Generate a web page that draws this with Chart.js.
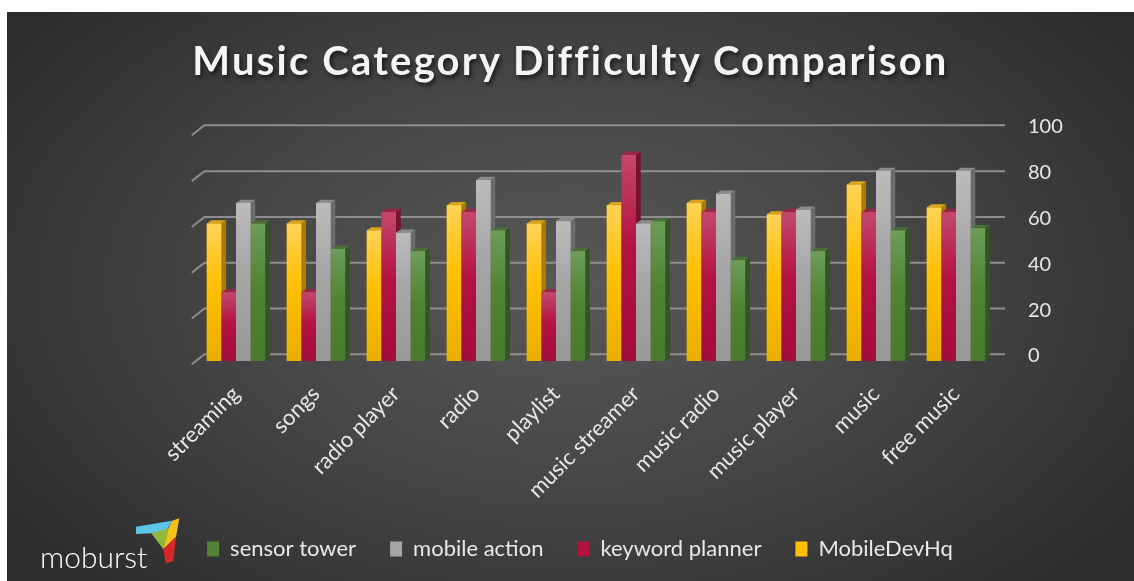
<!DOCTYPE html>
<html>
<head>
<meta charset="utf-8">
<script src="https://cdn.jsdelivr.net/npm/chart.js@4.4.1/dist/chart.umd.min.js"></script>
<style>
  html, body { margin: 0; padding: 0; background: #fff; }
  #wrap {
    position: absolute; left: 7px; top: 12px; width: 1127px; height: 569px;
    background: radial-gradient(ellipse 62% 75% at 50% 48%, #585858 0%, #474747 45%, #2c2c2c 100%);
  }
  #title {
    position: absolute; left: 0; top: 24px; width: 100%; text-align: center;
    font: bold 40px Lato, sans-serif; line-height: 48px; letter-spacing: 2.2px;
    color: #f4f4f4; text-shadow: 2px 3px 4px rgba(0, 0, 0, 0.6);
  }
  canvas { position: absolute; left: 0; top: 0; }
</style>
</head>
<body>
<div id="wrap">
  <canvas id="chart"></canvas>
  <div id="title">Music Category Difficulty Comparison</div>
</div>
<script>
const categories = ['streaming', 'songs', 'radio player', 'radio', 'playlist', 'music streamer', 'music radio', 'music player', 'music', 'free music'];
const mobileDevHq = [60, 60, 57, 68, 60, 68, 69, 64, 77, 67];
const keywordPlanner = [30, 30, 65, 65, 30, 90, 65, 65, 65, 65];
const mobileAction = [69, 69, 56, 79, 61, 60, 73, 66, 83, 83];
const sensorTower = [60, 49, 48, 57, 48, 61, 44, 48, 57, 58];
const yTicks = [0, 20, 40, 60, 80, 100];

// face colours: [light, base, dark, side, top]
const shades = [
  ['#ffd257', '#ffc000', '#e9ae00', '#a97d00', '#d9a31c'],
  ['#c4486a', '#b3123f', '#a10d38', '#761430', '#98274a'],
  ['#bcbcbc', '#a6a6a6', '#999999', '#6c6c6c', '#8c8c8c'],
  ['#6e9c5a', '#548235', '#4a782c', '#335620', '#4b6e38']
];
const DX = 4.7, DY = 3.3;   // bar depth
const FX = 12.6, FY = 10;   // floor depth

const bars3d = {
  id: 'bars3d',
  beforeDatasetsDraw(chart) {
    const ctx = chart.ctx, area = chart.chartArea, y = chart.scales.y;
    ctx.save();
    ctx.strokeStyle = '#8e8e8e';
    ctx.lineWidth = 2;
    yTicks.forEach(v => {
      const py = y.getPixelForValue(v);
      const fx = area.left - FX / 3, fy = py + FY / 3;
      ctx.beginPath();
      ctx.moveTo(fx, fy);
      ctx.lineTo(fx + FX, fy - FY);
      ctx.lineTo(area.right + 9, fy - FY);
      ctx.stroke();
    });
    ctx.restore();
  },
  afterDatasetsDraw(chart) {
    const ctx = chart.ctx;
    ctx.save();
    categories.forEach((c, i) => {
      chart.data.datasets.forEach((ds, d) => {
        const el = chart.getDatasetMeta(d).data[i];
        const s = shades[d];
        const l = el.x - el.width / 2, r = el.x + el.width / 2, t = el.y, b = el.base;
        ctx.fillStyle = s[3];
        ctx.beginPath();
        ctx.moveTo(r, t); ctx.lineTo(r + DX, t - DY); ctx.lineTo(r + DX, b - DY); ctx.lineTo(r, b);
        ctx.closePath(); ctx.fill();
        ctx.fillStyle = s[4];
        ctx.beginPath();
        ctx.moveTo(l, t); ctx.lineTo(l + DX, t - DY); ctx.lineTo(r + DX, t - DY); ctx.lineTo(r, t);
        ctx.closePath(); ctx.fill();
        const g = ctx.createLinearGradient(0, t, 0, b);
        g.addColorStop(0, s[0]); g.addColorStop(0.45, s[1]); g.addColorStop(1, s[2]);
        ctx.fillStyle = g;
        ctx.fillRect(l, t, r - l, b - t);
      });
    });
    ctx.restore();
  },
  afterDraw(chart) {
    const ctx = chart.ctx;
    const poly = (col, pts) => {
      ctx.fillStyle = col;
      ctx.beginPath();
      pts.forEach((p, k) => k ? ctx.lineTo(p[0], p[1]) : ctx.moveTo(p[0], p[1]));
      ctx.closePath(); ctx.fill();
    };
    ctx.save();
    poly('#5cc6e6', [[129, 514.7], [165, 508.7], [159.7, 518.7], [144.7, 521.3], [129, 522]]);
    poly('#8fb93b', [[144.3, 521.3], [161.7, 516], [156.3, 537.3]]);
    poly('#f4c21a', [[165, 508.7], [172.3, 506.3], [169, 524.7], [156.3, 537.3], [161.7, 516]]);
    poly('#d62828', [[156.3, 537.3], [169, 524.7], [166.3, 549], [158.7, 551.3]]);
    ctx.fillStyle = '#ffffff';
    ctx.font = '300 30px Lato';
    ctx.textBaseline = 'alphabetic';
    ctx.fillText('moburst', 33, 556);
    ctx.restore();
  }
};

new Chart(document.getElementById('chart'), {
  type: 'bar',
  data: {
    labels: categories,
    datasets: [
      { label: 'MobileDevHq', data: mobileDevHq, backgroundColor: '#ffc000' },
      { label: 'keyword planner', data: keywordPlanner, backgroundColor: '#b3123f' },
      { label: 'mobile action', data: mobileAction, backgroundColor: '#a6a6a6' },
      { label: 'sensor tower', data: sensorTower, backgroundColor: '#548235' }
    ]
  },
  options: {
    responsive: true,
    maintainAspectRatio: false,
    animation: false,
    datasets: { bar: { categoryPercentage: 0.73, barPercentage: 1 } },
    layout: { padding: { top: 120, bottom: 11, left: 19, right: 0 } },
    plugins: {
      title: { display: false },
      tooltip: { enabled: false },
      legend: {
        position: 'bottom',
        reverse: true,
        labels: { color: '#e8e8e8', font: { family: 'Lato', size: 22 }, boxWidth: 12, boxHeight: 15, padding: 34 }
      }
    },
    scales: {
      x: {
        grid: { display: false, drawTicks: false },
        border: { display: false },
        ticks: { color: '#e8e8e8', font: { family: 'Lato', size: 22 }, minRotation: 45, maxRotation: 45, padding: 20 },
        afterFit: s => { s.height = 143; }
      },
      y: {
        position: 'right',
        min: 0,
        max: 100,
        grid: { display: false },
        border: { display: false },
        ticks: { color: '#e8e8e8', font: { family: 'Lato', size: 20 }, padding: 24, labelOffset: -5 },
        afterBuildTicks: s => { s.ticks = yTicks.map(v => ({ value: v })); },
        afterFit: s => { s.width = 138; }
      },
      yl: {
        position: 'left',
        grid: { display: false },
        border: { display: false },
        ticks: { display: false },
        afterFit: s => { s.width = 170; }
      }
    }
  },
  plugins: [bars3d]
});
</script>
</body>
</html>
